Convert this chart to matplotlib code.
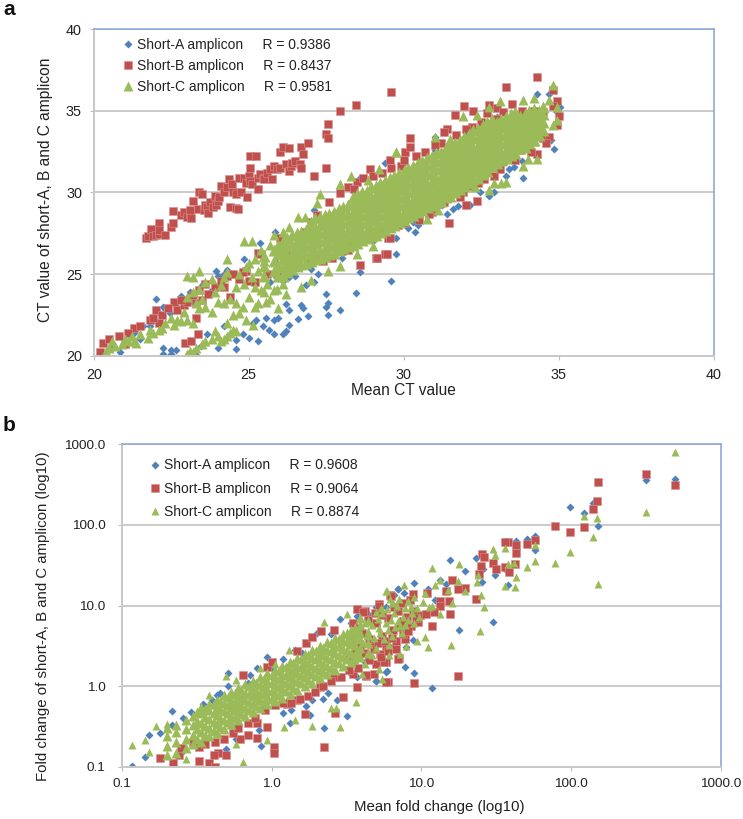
import matplotlib
matplotlib.use("Agg")
import matplotlib.pyplot as plt

plt.rcParams['font.family'] = ['Liberation Sans', 'DejaVu Sans']

# ---------- Panel a: values (mean CT, amplicon CT) ----------
a_A_points = [
 (20.85,20.2),(20.6,20.5),(21.3,21.4),(21.5,21.0),(21.8,21.8),(22.0,23.5),(22.2,22.4),(22.25,23.0),(22.25,20.45),(22.25,20.1),
 (22.5,20.35),(22.5,20.1),(22.65,20.35),(22.8,23.65),(23.1,23.9),(23.3,20.05),(23.45,20.6),(23.65,21.35),(23.95,25.2),(24.0,20.45),
 (24.3,25.25),(24.2,21.8),(24.6,20.4),(24.6,20.95),(24.85,25.95),(24.8,21.3),(25.0,21.1),(25.3,20.9),(25.15,22.0),(25.25,22.2),
 (25.35,26.9),(25.45,21.8),(25.55,22.3),(25.65,21.6),(25.8,21.3),(25.8,22.2),(25.85,27.6),(25.95,22.3),(26.1,21.3),(26.2,21.5),
 (26.2,23.15),(26.3,21.9),(26.3,22.8),(26.6,22.25),(26.7,23.1),(26.75,22.9),(26.9,22.45),(26.85,24.3),(27.1,24.5),(27.1,28.9),
 (27.25,25.0),(27.5,23.8),(27.55,23.25),(27.5,23.0),(27.55,22.5),(27.95,22.8),(28.45,23.85),(28.6,25.1),(28.6,30.85),(29.4,31.8),
 (29.6,24.55),(29.75,26.2),(29.75,27.2),(30.15,27.8),(30.35,27.6),(30.45,28.0),(30.3,28.2),(31.0,33.4),(31.25,29.2),(31.4,28.7),
 (31.6,29.0),(31.75,29.15),(32.0,29.25),(32.15,29.2),(32.45,30.0),(32.75,29.75),(32.9,30.05),(33.3,31.0),(33.4,31.4),(33.55,31.55),
 (33.8,31.9),(33.85,30.9),(34.3,36.0),(34.7,36.0),(35.05,35.25),(34.85,32.65),(34.75,33.2),(34.95,34.9),(27.0,25.3),(28.0,26.0),
 (29.0,27.0),(30.0,31.8),(31.0,32.6),(32.0,33.7),(33.0,34.6),(26.3,24.8),(26.5,24.9),(26.1,24.6),(25.7,24.5),(25.9,25.7),(24.0,24.9),
 (24.2,25.0),(23.5,24.3),(23.8,24.0),(22.7,23.0),(23.2,23.3),(22.45,22.6),(22.0,22.1),(22.1,22.6),(21.6,21.8),(21.4,21.7),
]
a_B_points = [
 (21.7,27.2),(21.75,27.3),(21.85,27.75),(21.9,27.3),(22.0,27.4),(22.1,27.45),(22.1,28.15),(22.1,27.7),(22.3,27.4),(22.5,27.9),
 (22.55,28.1),(22.55,28.85),(22.8,28.6),(22.9,28.8),(23.0,28.5),(23.1,28.7),(23.15,28.4),(23.1,28.9),(23.2,29.5),(23.35,29.0),
 (23.4,30.0),(23.5,29.9),(23.55,28.9),(23.6,29.2),(23.65,29.1),(23.7,28.75),(23.75,29.4),(23.85,29.1),(23.9,29.8),(23.95,29.25),
 (24.0,29.5),(24.05,29.7),(24.1,30.4),(24.2,30.05),(24.3,30.3),(24.35,30.8),(24.4,29.1),(24.45,30.5),(24.5,30.0),(24.6,29.05),
 (24.65,29.0),(24.6,29.9),(24.7,30.9),(24.75,30.0),(24.85,30.9),(24.9,30.55),(24.95,29.7),(25.0,31.0),(25.05,30.7),(25.05,31.5),
 (25.05,32.2),(25.1,30.5),(25.25,32.2),(25.3,30.9),(25.3,30.2),(25.35,31.1),(25.45,30.85),(25.5,30.8),(25.6,31.2),(25.7,31.4),
 (25.75,30.8),(25.8,31.6),(25.9,31.4),(26.0,31.5),(26.0,32.45),(26.1,32.8),(26.2,31.75),(26.3,31.3),(26.35,31.6),(26.3,32.7),
 (26.4,31.8),(26.5,31.9),(26.65,31.75),(26.7,32.8),(26.9,33.0),(26.75,32.35),(26.7,31.5),(27.1,31.0),(27.5,31.5),(27.5,33.55),
 (27.55,34.2),(27.55,33.3),(27.95,35.0),(28.45,35.35),(29.6,36.15),(33.3,36.45),(34.3,37.05),(34.8,36.25),(34.95,35.6),
 # main band
 (20.2,20.2),(20.3,20.8),(20.5,21.0),(20.8,21.2),(21.0,20.7),(21.3,21.7),(21.5,21.8),(21.8,22.2),(22.0,22.8),(22.1,22.0),
 (22.6,23.3),(22.7,22.8),(22.9,23.1),(23.0,23.3),(23.3,23.2),(23.3,22.3),(23.5,23.4),(23.6,24.4),(23.9,24.2),(24.1,24.6),
 (24.2,24.2),(24.4,23.6),(24.7,24.7),(25.0,24.6),(24.9,25.2),(25.2,24.5),(25.3,26.3),(25.4,26.2),(25.6,25.0),(25.9,25.0),
 (26.0,27.2),(26.4,26.2),(26.8,27.6),(27.2,28.6),(22.95,20.75),(23.15,20.9),(23.35,21.3),
 (28.9,31.45),(28.2,30.35),(27.95,29.95),(27.6,29.4),(28.5,30.65),(29.55,32.0),(29.1,26.0),(29.4,26.2),(28.6,25.55),(29.5,27.2),
 (27.7,26.0),(28.2,26.5),(30.2,33.3),(30.05,32.5),(30.2,32.8),(29.9,31.6),(31.4,33.9),(31.3,33.7),(31.65,34.75),(31.95,35.3),
 (32.25,35.0),(32.75,35.35),(33.0,35.15),(33.5,35.4),(32.7,34.85),(34.5,33.3),(34.7,33.4),(34.3,32.35),(34.0,32.9),(34.95,34.1),
 (35.0,34.7),(31.45,28.15),(32.35,29.5),(32.0,29.25),(30.5,28.3),(30.9,28.8),(29.55,27.2),(29.45,26.25),(29.15,26.0),(31.3,29.4),
 (31.9,30.0),(33.2,31.9),(33.75,32.6),(26.6,25.4),(27.3,26.0),(28.0,26.4),(28.8,27.2),(29.8,28.0),(30.6,28.9),(31.6,30.0),
 (32.6,30.8),(33.5,32.4),(28.4,30.2),(29.3,31.2),(30.4,32.2),(31.2,33.0),(32.2,34.0),(33.2,34.9),(34.2,35.0),(27.0,28.2),
 (28.7,30.9),(29.0,31.0),(29.6,31.5),(30.0,32.0),(30.7,32.5),(31.0,32.9),(31.7,33.5),(32.0,33.9),(32.5,34.3),(33.0,34.5),(33.8,35.0),
 (34.5,34.9),(34.8,35.3),(28.3,26.7),(28.5,27.0),(29.0,27.3),(29.3,27.5),(30.0,28.1),(30.3,28.6),(30.8,28.7),(31.1,29.3),(31.8,29.7),
 (32.2,30.4),(32.4,30.6),(32.9,31.0),(33.1,31.4),(33.6,32.0),(34.1,32.5),(34.6,33.0),(27.4,25.8),(26.9,25.9),(26.2,25.2),
 (21.1,21.4),(21.9,22.3),(22.2,22.5),(22.4,22.9),(22.8,23.4),(23.2,23.7),(23.4,24.0),(23.7,23.8),(24.3,24.9),(24.5,25.0),(24.8,25.1),
]
a_C_points = [
 (20.4,20.3),(20.5,20.5),(20.6,20.9),(20.4,20.1),(20.7,20.6),(20.9,20.7),(21.0,21.0),(21.1,20.9),(21.25,21.2),(21.3,20.9),
 (21.35,20.8),(21.5,21.3),(21.75,21.1),(21.8,21.6),(21.9,21.4),(22.1,21.6),(22.2,21.7),(22.3,22.0),(22.5,22.3),(22.6,21.9),
 (22.7,22.2),(22.8,22.1),(23.0,22.2),(23.2,22.0),(23.0,23.6),(23.2,23.9),(23.0,24.9),(23.2,24.8),(23.4,25.2),(23.4,24.1),
 (23.6,24.5),(23.8,24.7),(24.2,24.8),(24.3,25.1),(24.3,25.9),(23.0,20.1),(23.1,20.3),(23.2,20.2),(23.3,20.5),(23.5,20.7),
 (23.6,20.9),(23.8,21.0),(23.9,21.5),(24.0,21.2),(24.1,20.9),(24.2,21.0),(24.3,21.2),(24.4,21.4),(24.5,21.6),(24.6,21.5),
 (24.3,22.0),(24.5,22.5),(24.7,22.6),(24.9,22.2),(23.4,22.9),(23.6,23.0),(23.8,22.7),(24.0,23.3),(24.2,23.2),(24.4,23.5),
 (24.6,23.2),(24.8,23.0),(25.0,23.6),(25.2,23.0),(24.6,24.2),(24.85,24.4),(25.1,24.8),(24.9,25.4),(25.2,24.2),(25.4,24.0),
 (25.6,24.4),(25.8,24.0),(25.15,21.9),(25.55,23.3),(25.95,22.9),(26.2,23.8),(26.7,24.2),(27.0,24.65),(27.55,25.2),(27.95,25.5),
 (24.85,27.0),(25.1,27.0),(25.8,27.4),(26.6,28.5),(26.8,28.5),(27.2,29.35),(27.3,29.9),(27.95,30.5),(28.3,31.0),(28.85,30.75),
 (29.2,31.45),(29.75,32.5),(29.75,32.45),(31.0,33.4),(31.9,34.65),(32.35,34.75),(32.75,35.2),(33.1,35.6),(33.85,35.65),(34.2,35.75),
 (34.7,35.65),(34.8,36.55),(34.95,35.2),(34.95,34.4),(34.8,34.1),(34.3,32.05),(34.0,32.05),(33.85,31.6),(33.3,30.65),(33.15,30.55),
 (32.9,30.6),(32.75,30.15),(32.3,30.35),(31.1,28.9),(30.75,28.35),(29.0,26.7),(28.5,26.2),(34.2,33.15),
 (22.9,22.7),(23.3,23.2),(23.5,23.5),(23.9,23.9),(24.1,24.3),(24.7,25.0),(25.0,25.7),(25.3,25.2),(25.5,25.8),(25.2,25.9),
 (25.4,26.5),(25.7,26.8),(25.9,26.6),(26.1,27.6),(26.3,27.9),(25.3,23.2),(25.5,23.9),(25.7,23.5),(25.9,24.1),(26.1,24.4),
]
# solid part of the band: mean CT value, then the CT values above it
a_C_band = [
 (25.5,[24.9,25.5,26.1]),(25.8,[25.2,25.8,26.5]),(26.1,[24.9,25.4,25.9,26.5,27.0]),(26.4,[25.3,25.8,26.3,26.8,27.4]),
 (26.7,[25.6,26.1,26.6,27.1,27.6]),(27.0,[25.8,26.3,26.8,27.3,27.8,28.2]),(27.3,[26.0,26.5,27.0,27.5,28.0,28.5]),
 (27.6,[26.2,26.7,27.2,27.7,28.2,28.7]),(27.9,[26.5,27.0,27.5,28.0,28.5,29.0]),(28.2,[26.7,27.2,27.7,28.2,28.7,29.2]),
 (28.5,[26.9,27.4,27.9,28.4,28.9,29.4,29.9]),(28.8,[27.2,27.7,28.2,28.7,29.2,29.7,30.1]),(29.1,[27.4,27.9,28.4,28.9,29.4,29.9,30.4]),
 (29.4,[27.7,28.2,28.7,29.2,29.7,30.2,30.7]),(29.7,[28.0,28.5,29.0,29.5,30.0,30.5,31.0]),(30.0,[28.3,28.8,29.3,29.8,30.3,30.8,31.3]),
 (30.3,[28.6,29.1,29.6,30.1,30.6,31.1,31.6]),(30.6,[28.9,29.4,29.9,30.4,30.9,31.4,31.9]),(30.9,[29.2,29.7,30.2,30.7,31.2,31.7,32.2]),
 (31.2,[29.5,30.0,30.5,31.0,31.5,32.0,32.5]),(31.5,[29.8,30.3,30.8,31.3,31.8,32.3,32.8,33.2]),(31.8,[30.2,30.7,31.2,31.7,32.2,32.7,33.2]),
 (32.1,[30.6,31.1,31.6,32.1,32.6,33.1,33.6]),(32.4,[30.9,31.4,31.9,32.4,32.9,33.4,33.9]),(32.7,[31.3,31.8,32.3,32.8,33.3,33.8,34.3]),
 (33.0,[31.8,32.3,32.8,33.3,33.8,34.3]),(33.3,[32.1,32.6,33.1,33.6,34.1,34.6]),(33.6,[32.4,32.9,33.4,33.9,34.4,34.9]),
 (33.9,[32.8,33.3,33.8,34.3,34.8]),(34.2,[33.2,33.7,34.2,34.7,35.1]),(34.5,[33.8,34.3,34.8,35.2]),
]
a_C_band_between = [
 (25.95,[24.9,25.5,26.2,26.8]),(26.25,[25.1,25.6,26.1,26.7,27.2]),(26.55,[25.5,26.0,26.5,27.0,27.5]),(26.85,[25.7,26.2,26.7,27.2,27.7]),
 (27.15,[25.9,26.4,26.9,27.4,27.9,28.4]),(27.45,[26.1,26.6,27.1,27.6,28.1,28.6]),(27.75,[26.3,26.8,27.3,27.8,28.3,28.8]),
 (28.05,[26.6,27.1,27.6,28.1,28.6,29.1]),(28.35,[26.8,27.3,27.8,28.3,28.8,29.3,29.7]),(28.65,[27.1,27.6,28.1,28.6,29.1,29.6,30.0]),
 (28.95,[27.3,27.8,28.3,28.8,29.3,29.8,30.3]),(29.25,[27.6,28.1,28.6,29.1,29.6,30.1,30.6]),(29.55,[27.9,28.4,28.9,29.4,29.9,30.4,30.9]),
 (29.85,[28.2,28.7,29.2,29.7,30.2,30.7,31.2]),(30.15,[28.5,29.0,29.5,30.0,30.5,31.0,31.5]),(30.45,[28.8,29.3,29.8,30.3,30.8,31.3,31.8]),
 (30.75,[29.1,29.6,30.1,30.6,31.1,31.6,32.1]),(31.05,[29.4,29.9,30.4,30.9,31.4,31.9,32.4]),(31.35,[29.7,30.2,30.7,31.2,31.7,32.2,32.7]),
 (31.65,[30.0,30.5,31.0,31.5,32.0,32.5,33.0]),(31.95,[30.4,30.9,31.4,31.9,32.4,32.9,33.4]),(32.25,[30.8,31.3,31.8,32.3,32.8,33.3,33.8]),
 (32.55,[31.1,31.6,32.1,32.6,33.1,33.6,34.1]),(32.85,[31.6,32.1,32.6,33.1,33.6,34.1,34.5]),(33.15,[32.0,32.5,33.0,33.5,34.0,34.5]),
 (33.45,[32.3,32.8,33.3,33.8,34.3,34.8]),(33.75,[32.7,33.2,33.7,34.2,34.7]),(34.05,[33.0,33.5,34.0,34.5,35.0]),(34.35,[33.5,34.0,34.5,35.0]),
]

# ---------- Panel b: values (mean fold change, amplicon fold change) ----------
b_A_points = [
 (.118,.103),(.143,.133),(.151,.248),(.18,.26),(.218,.49),(.215,.33),(.5,.168),(.51,1.44),(.51,.99),(.43,.78),(.45,.81),(.29,.48),
 (.255,.4),(.245,.16),(.25,.146),(.58,.22),(.85,.18),(.83,.285),(.94,2.32),(.8,1.67),(.72,1.38),(1.2,2.2),(1.2,.46),(1.34,.5),
 (1.32,.35),(1.7,.57),(1.8,.44),(1.44,2.8),(2.0,4.5),(2.25,.3),(2.2,.69),(2.4,.83),(2.75,.67),(3.2,.42),(2.85,6.8),(3.7,7.5),
 (5.0,9.7),(5.8,9.7),(7.0,16.0),(6.6,13.4),(5.0,1.15),(5.8,1.5),(3.7,1.3),(3.3,1.5),(4.2,2.0),(1.85,.67),(15.6,36.4),(19.5,27.0),
 (23.3,39.0),(25.8,28.0),(25.5,19.6),(30.9,23.7),(37.9,18.1),(36.0,28.0),(43.0,62.7),(51.0,67.5),(57.3,72.0),(57.3,48.5),(98.0,168.0),
 (121.0,141.0),(139.0,188.0),(152.0,97.0),(315.0,365.0),(490.0,368.0),(30.2,6.3),(17.7,5.0),(11.8,.94),(8.9,1.45),(7.8,1.72),(5.9,1.56),
 (5.0,1.17),(8.9,19.0),(7.0,16.2),(7.7,14.3),(11.0,16.0),(13.3,21.0),(14.7,18.5),(6.4,13.4),(12.3,11.8),(7.9,3.05),(8.8,3.76),
 (.35,.6),(.4,.68),(.6,.9),(.7,1.1),(1.0,1.7),(1.6,2.6),(2.5,4.4),(3.4,6.0),(4.4,7.8),
]
b_B_points = [
 (152.0,343.0),(315.0,433.0),(490.0,310.0),(148.0,199.0),(139.0,159.0),(121.0,93.0),(98.0,82.0),(78.0,98.0),(57.3,65.6),(51.0,57.6),
 (43.0,56.4),(43.0,44.8),(38.0,62.0),(36.0,61.5),(25.5,44.0),(26.0,40.0),(25.0,30.6),(30.0,33.7),(31.3,28.0),(36.0,30.0),(42.0,33.0),
 (38.5,26.0),(24.4,24.6),(23.3,12.2),(19.5,16.5),(17.6,16.0),(16.0,21.0),(14.7,15.1),(13.3,11.3),(13.3,9.8),(15.3,11.5),(15.6,7.8),
 (11.8,5.5),(10.9,14.3),(8.8,14.0),(6.2,13.4),(5.2,10.5),(3.7,9.1),(4.2,8.5),(17.6,1.33),(9.0,1.09),(6.0,1.12),(3.7,.97),(4.8,1.41),
 (4.3,1.34),(3.5,1.41),(7.1,2.25),(5.8,2.0),(5.0,1.87),(9.8,7.7),(12.2,8.2),(10.8,7.9),(7.8,3.8),(3.0,.74),(2.65,.46),(2.25,.177),
 (1.67,.45),(1.04,.175),(1.04,.146),(.8,.225),(.8,.345),(.93,.31),(.7,.245),(.62,.22),(.5,.14),(.44,.146),(.41,.14),(.38,.11),(.42,.1),
 (.33,.118),(.22,.11),(.18,.127),(.24,.14),(.33,.177),(.65,1.37),(.93,1.74),(1.0,2.0),(1.47,2.7),(1.7,3.4),(1.85,4.1),(2.15,4.8),
 (2.6,5.0),(3.5,6.0),(4.1,8.4),(5.2,10.0),(6.3,13.0),(4.3,1.38),(5.8,1.14),(5.6,2.0),(7.0,2.2),(5.8,3.1),(2.6,1.3),(2.1,.98),
 (1.47,.67),(1.27,.6),(.25,.17),(.3,.2),(.36,.19),(.42,.2),(.48,.22),(.55,.26),(.6,.3),(.7,.35),(.78,.4),(.9,.5),(1.05,.58),(1.2,.62),
 (1.35,.62),(1.55,.7),(1.75,.75),(1.95,.85),(2.2,1.0),(2.5,1.15),(2.9,1.3),(3.3,1.6),(3.8,1.7),(4.5,2.1),(5.3,2.5),(6.2,3.0),
 (6.8,3.6),(7.5,4.4),(8.5,5.6),(9.5,6.2),(6.5,5.0),(5.5,4.2),(4.6,3.3),(8.0,7.2),(7.0,8.6),(6.0,7.0),(5.0,6.0),(4.0,4.6),
 (3.3,2.2),(3.6,2.7),(3.9,3.1),(4.2,2.6),(4.5,3.8),(4.8,2.9),(5.1,3.4),(5.4,2.3),(5.7,3.6),(6.0,2.7),(6.4,3.9),(6.8,2.9),(7.2,5.4),
 (7.6,6.4),(8.2,4.8),(8.8,8.6),(9.2,7.0),(3.4,3.8),(3.8,5.2),(4.4,6.6),(4.9,8.0),(5.5,7.6),(6.6,9.6),(7.4,10.6),(8.4,11.8),
]
b_C_points = [
 (494.0,800.0),(315.0,145.0),(152.0,18.3),(148.0,123.0),(139.0,70.0),(121.0,130.0),(98.0,46.0),(78.0,33.3),(57.3,56.8),(57.3,36.0),
 (51.0,29.8),(43.0,22.3),(42.5,17.1),(41.5,33.6),(38.0,32.9),(36.0,17.3),(36.0,51.8),(30.0,50.4),(31.0,42.8),(24.0,24.0),(23.7,19.6),
 (25.0,13.6),(26.0,9.7),(24.8,4.8),(17.7,32.5),(11.8,29.0),(13.3,21.0),(17.5,20.0),(19.5,15.0),(15.0,15.7),(12.4,17.8),(15.9,10.7),
 (13.3,7.9),(11.7,10.0),(15.7,3.2),(11.1,3.05),(10.6,4.07),(9.4,3.6),(7.7,17.8),(5.9,15.0),(3.68,.63),(5.5,1.23),(5.2,1.63),(4.0,1.41),
 (4.2,1.87),(7.2,2.5),(6.1,2.4),(7.9,3.17),(.118,.185),(.143,.215),(.151,.154),(.17,.32),(.2,.34),(.27,.124),(.65,.115),(.58,.19),
 (.94,.215),(1.22,.31),(1.43,.38),(1.85,.32),(2.85,.31),(2.5,.53),(2.7,.54),(2.25,6.3),(3.2,7.9),(5.8,15.0),(.38,.78),(.5,1.35),
 (.58,1.2),(1.3,2.8),(1.05,1.9),(.84,1.7),(5.2,5.2),(5.6,3.8),(6.0,4.9),(6.3,6.6),(6.6,8.0),(6.9,10.0),(7.2,5.6),(7.5,7.1),(7.8,9.2),
 (8.2,11.5),(8.6,8.0),(9.0,12.8),(9.3,9.2),(9.7,7.2),(10.2,11.0),(10.6,14.4),(11.2,9.6),(5.0,8.2),(5.4,9.4),(4.8,4.0),(6.2,12.0),
 (4.7,2.4),(5.0,3.0),(5.3,4.6),(5.8,6.0),(6.1,3.2),(6.4,4.2),(6.7,5.4),(7.0,6.4),(7.4,4.6),(7.8,5.8),(8.2,6.6),(8.5,9.6),(9.0,6.0),
 (3.6,2.1),(3.8,2.7),(4.1,3.4),(4.4,4.8),(4.7,5.8),(5.1,6.8),(5.5,8.0),(5.9,9.0),(6.5,10.8),(7.1,12.2),(4.2,6.0),(3.7,4.8),(3.3,3.4),
]
# dense part of the band: mean fold change, then the fold changes above it
b_C_band = [
 (.2,[.14,.18,.24,.3]),(.23,[.15,.2,.27,.33]),(.27,[.17,.22,.29,.38]),(.3,[.19,.25,.33,.42]),(.34,[.2,.27,.35,.46,.55]),
 (.38,[.24,.3,.39,.5,.6]),(.43,[.26,.34,.44,.55,.68]),(.48,[.29,.38,.49,.62,.78]),(.54,[.34,.43,.55,.68,.85]),(.6,[.38,.48,.6,.75,.95]),
 (.67,[.42,.53,.67,.83,1.05]),(.75,[.48,.6,.75,.93,1.15]),(.84,[.53,.67,.83,1.03,1.3]),(.94,[.6,.75,.93,1.15,1.45]),
 (1.05,[.65,.82,1.03,1.28,1.6]),(1.18,[.72,.92,1.15,1.42,1.8]),(1.32,[.8,1.02,1.3,1.6,2.0]),(1.48,[.9,1.15,1.45,1.8,2.25]),
 (1.66,[1.0,1.28,1.62,2.0,2.5]),(1.86,[1.1,1.42,1.8,2.25,2.8]),(2.1,[1.25,1.6,2.0,2.5,3.1]),(2.35,[1.4,1.8,2.25,2.8,3.5]),
 (2.65,[1.6,2.0,2.55,3.15,3.9]),(3.0,[1.8,2.3,2.9,3.6,4.4]),(3.4,[2.0,2.6,3.3,4.1,5.0]),(3.9,[2.3,3.0,3.8,4.6,5.7,7.0]),
 (4.4,[2.6,3.4,4.3,6.5]),
]
b_C_band_between = [
 (.32,[.22,.29,.37,.48]),(.36,[.25,.32,.41,.52]),(.41,[.28,.36,.47,.6]),(.45,[.31,.4,.52,.66]),(.51,[.36,.46,.58,.74]),
 (.57,[.4,.51,.64,.8]),(.63,[.45,.57,.71,.89]),(.71,[.5,.63,.79,1.0]),(.79,[.56,.71,.88,1.1]),(.89,[.63,.79,.98,1.22]),
 (1.0,[.7,.87,1.09,1.36]),(1.12,[.77,.97,1.22,1.52]),(1.25,[.86,1.09,1.37,1.72]),(1.4,[.96,1.22,1.53,1.92]),
 (1.57,[1.08,1.36,1.72,2.14]),(1.76,[1.2,1.52,1.92,2.4]),(1.98,[1.34,1.7,2.15,2.7]),(2.22,[1.5,1.9,2.4,3.0]),
 (2.5,[1.7,2.15,2.7,3.4]),(2.82,[1.95,2.45,3.1,3.8]),(3.2,[2.2,2.8,3.6,4.5]),(3.6,[2.5,3.2,4.1,5.2]),
]

# ---------- Text ----------
a_legend = ["Short-A amplicon     R = 0.9386", "Short-B amplicon     R = 0.8437", "Short-C amplicon     R = 0.9581"]
b_legend = ["Short-A amplicon     R = 0.9608", "Short-B amplicon     R = 0.9064", "Short-C amplicon     R = 0.8874"]
a_ticks = [20, 25, 30, 35, 40]
b_ticks = [0.1, 1, 10, 100, 1000]
b_ticklabels = ["0.1", "1.0", "10.0", "100.0", "1000.0"]

BLUE, RED, GREEN = "#4F81BD", "#C0504D", "#9BBB59"
GRID = "#BDBDBD"
FRAME = "#8EA9D8"
W, H = 743, 819


def unpack(points, *bands):
    xs = [p[0] for p in points]
    ys = [p[1] for p in points]
    for band in bands:
        for x, column in band:
            xs += [x] * len(column)
            ys += column
    return xs, ys


def make_axes(left, right, top, bottom, labelsize, pad_y, pad_x):
    ax = fig.add_axes([left / W, 1 - bottom / H, (right - left) / W, (bottom - top) / H])
    ax.set_axisbelow(True)
    ax.grid(axis='y', color=GRID, lw=1.1)
    ax.grid(axis='x', visible=False)
    for side in ('top', 'right'):
        ax.spines[side].set_color(FRAME)
        ax.spines[side].set_linewidth(1.2)
    for side in ('left', 'bottom'):
        ax.spines[side].set_color("#C8C8C8")
        ax.spines[side].set_linewidth(1.4)
    ax.tick_params(which='major', length=3, width=0.8, color="#BDBDBD", labelsize=labelsize, labelcolor="#222222")
    ax.tick_params(axis='y', pad=pad_y)
    ax.tick_params(axis='x', pad=pad_x)
    ax.tick_params(which='minor', length=0)
    return ax


fig = plt.figure(figsize=(W / 100, H / 100), dpi=100)

# Panel a
ax = make_axes(93.7, 713.7, 29, 355.7, 10.4, 5.5, 5.5)
ax.set_xlim(20, 40)
ax.set_ylim(20, 40)
ax.set_xticks(a_ticks)
ax.set_yticks(a_ticks)
ax.plot(*unpack(a_A_points), 'D', color=BLUE, ms=4.2, mec='none', label=a_legend[0])
ax.plot(*unpack(a_B_points), 's', color=RED, ms=5.8, mec='#D98F8C', mew=0.4, label=a_legend[1])
ax.plot(*unpack([], a_C_band, a_C_band_between), '^', color=GREEN, ms=8.6, mec='none')
ax.plot(*unpack(a_C_points), '^', color=GREEN, ms=7.0, mec='none', label=a_legend[2])
ax.legend(loc='upper left', bbox_to_anchor=(0.02, 1.01), frameon=False, fontsize=10, labelspacing=0.50,
          handletextpad=0.0, handlelength=1.3, labelcolor="#222222")
ax.set_xlabel("Mean CT value", fontsize=11.2, color="#222222")
ax.xaxis.set_label_coords(0.5, -0.083)
ax.set_ylabel("CT value of short-A, B and C amplicon", fontsize=11.2, color="#222222")
ax.yaxis.set_label_coords(-0.066, 0.507)
fig.text(3 / W, 1 - 15 / H, "a", fontsize=15, fontweight='bold', color="#111111")

# Panel b
ax = make_axes(121.7, 721, 444.3, 766.7, 9.7, 8.5, 5)
ax.set_xscale('log')
ax.set_yscale('log')
ax.set_xlim(0.1, 1000)
ax.set_ylim(0.1, 1000)
ax.set_xticks(b_ticks, b_ticklabels)
ax.set_yticks(b_ticks, b_ticklabels)
ax.minorticks_off()
ax.plot(*unpack(b_A_points), 'D', color=BLUE, ms=3.9, mec='none', label=b_legend[0])
ax.plot(*unpack(b_B_points), 's', color=RED, ms=5.3, mec='#D98F8C', mew=0.4, label=b_legend[1])
ax.plot(*unpack([], b_C_band, b_C_band_between), '^', color=GREEN, ms=7.4, mec='none')
ax.plot(*unpack(b_C_points), '^', color=GREEN, ms=6.2, mec='none', label=b_legend[2])
ax.legend(loc='upper left', bbox_to_anchor=(0.02, 0.995), frameon=False, fontsize=10, labelspacing=0.66,
          handletextpad=0.0, handlelength=1.3, labelcolor="#222222")
ax.set_xlabel("Mean fold change (log10)", fontsize=10.8, color="#222222")
ax.xaxis.set_label_coords(0.53, -0.103)
ax.set_ylabel("Fold change of short-A, B and C amplicon (log10)", fontsize=10.8, color="#222222")
ax.yaxis.set_label_coords(-0.12, 0.467)
fig.text(3 / W, 1 - 431 / H, "b", fontsize=15, fontweight='bold', color="#111111")

fig.savefig("out.png", dpi=100)
